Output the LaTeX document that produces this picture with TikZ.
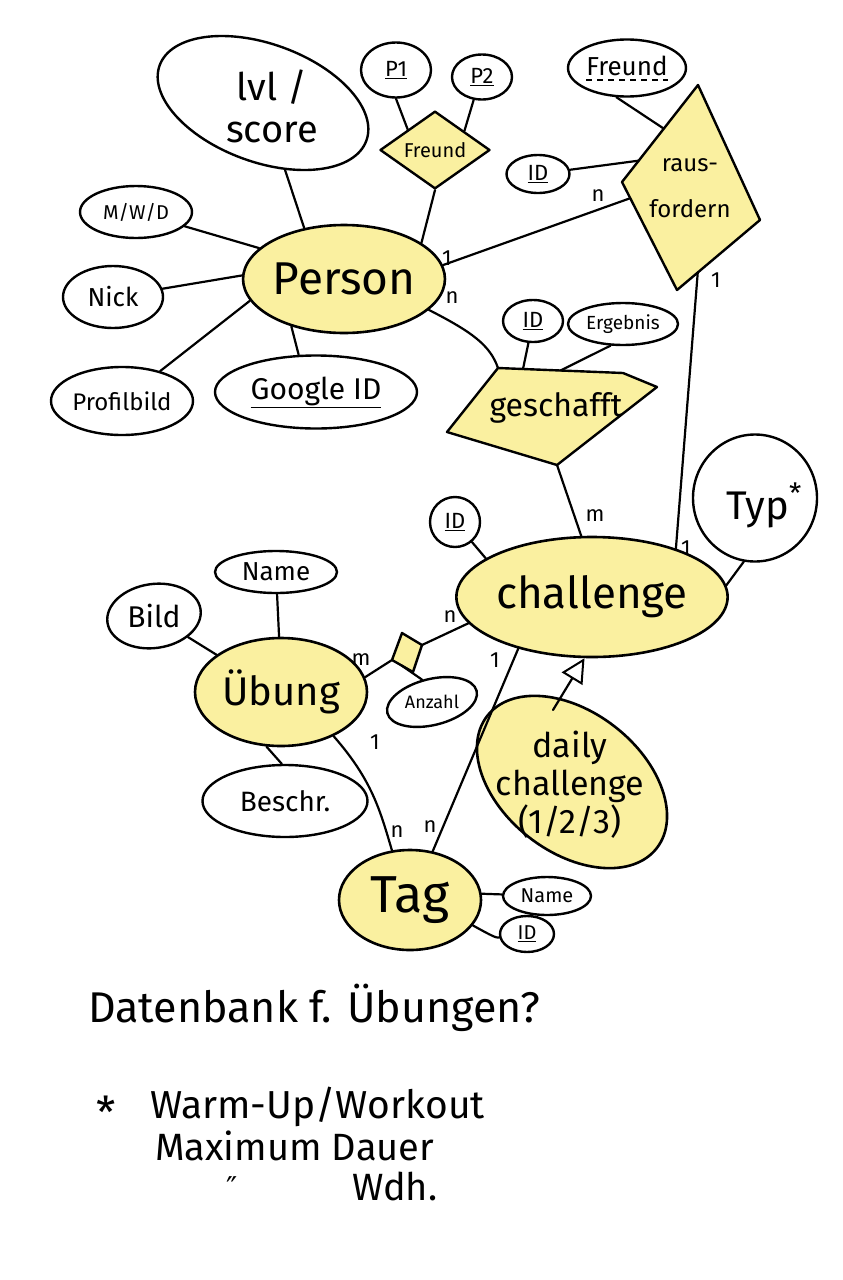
\documentclass[tikz,border=0pt]{standalone}
\usepackage{fontspec}
\setmainfont{Fira Sans}
\newfontfamily\dejavu{DejaVu Sans}
\usetikzlibrary{shapes.geometric,arrows.meta,calc}
\definecolor{hl}{RGB}{250,240,160}
\newcommand\fsz[2]{\fontsize{#1}{#2}\selectfont}
\newcommand\ul[1]{$\underline{\hbox{#1}}$}
\begin{document}
\begin{tikzpicture}[x=1pt,y=-1pt,line join=round,line cap=round]
\tikzset{
  ent/.style={ellipse,draw,line width=2.6pt,fill=hl,inner sep=0pt},
  attr/.style={ellipse,draw,line width=2.4pt,fill=white,inner sep=0pt},
  relpoly/.style={draw,line width=2.4pt,fill=hl},
  reltxt/.style={inner sep=0pt,align=center},
  lnk/.style={line width=2.2pt},
  card/.style={font=\fsz{22}{22},inner sep=0pt},
  txt/.style={inner sep=0pt,anchor=base west},
}
\useasboundingbox (0,0) rectangle (843,1280);
\fill[white] (0,0) rectangle (843,1280);

% ---------- Person and attributes ----------
\node[ent,minimum width=194,minimum height=108,font=\fsz{46}{46}] (person) at (344,279) {Person};
\node[attr,minimum width=220,minimum height=118,rotate=-20] (lvl) at (263,103) {};
\node[reltxt,font=\fsz{38}{42}] (lvltxt) at (272,106) {lvl /\\score};
\node[attr,minimum width=112,minimum height=52,font=\fsz{20}{20}] (mwd) at (136,212) {M/W/D};
\node[attr,minimum width=100,minimum height=62,font=\fsz{26}{26}] (nick) at (113,297) {Nick};
\node[attr,minimum width=142,minimum height=68,font=\fsz{24}{24}] (prof) at (122,401) {Profilbild};
\node[attr,minimum width=202,minimum height=73,font=\fsz{30}{30}] (google) at (316,392) {\ul{Google ID}};

% ---------- Freund relation ----------
\node[attr,minimum width=70,minimum height=55,font=\fsz{22}{22}] (p1) at (396,70) {\ul{P1}};
\node[attr,minimum width=60,minimum height=45,font=\fsz{22}{22}] (p2) at (482,77) {\ul{P2}};
\node[diamond,draw,line width=2.4pt,fill=hl,inner sep=0pt,minimum width=110,minimum height=72,font=\fsz{20}{20}] (freund) at (435,150) {Freund};

% ---------- rausfordern ----------
\coordinate (rt) at (698,85);
\coordinate (rr) at (760,220);
\coordinate (rb) at (677,290);
\coordinate (rl) at (622,182);
\draw[relpoly] (rt) -- (rr) -- (rb) -- (rl) -- cycle;
\node[reltxt,font=\fsz{24}{46}] (raustxt) at (690,188) {raus-\\fordern};
\node[attr,minimum width=118,minimum height=57] (freundattr) at (627,68) {};
\node[inner sep=0pt,font=\fsz{26}{26}] (fatxt) at (627,66) {Freund};
\draw[line width=1.8pt,dash pattern=on 6pt off 5pt,line cap=butt] ([yshift=-4pt]fatxt.south west) -- ([yshift=-4pt]fatxt.south east);
\node[attr,minimum width=63,minimum height=38,font=\fsz{22}{22}] (idr) at (538,174) {\ul{ID}};

% ---------- geschafft ----------
\coordinate (gtl) at (498,368);
\coordinate (gtr) at (623,373);
\coordinate (gr) at (657,387);
\coordinate (gb) at (557,465);
\coordinate (gl) at (447,432);
\draw[relpoly] (gtl) -- (gtr) -- (gr) -- (gb) -- (gl) -- cycle;
\node[reltxt,font=\fsz{32}{32}] (geschtxt) at (556,408) {geschafft};
\node[attr,minimum width=60,minimum height=42,font=\fsz{22}{22}] (idg) at (533,321) {\ul{ID}};
\node[attr,minimum width=110,minimum height=42,font=\fsz{19}{19}] (erg) at (623,324) {Ergebnis};

% ---------- challenge ----------
\node[ent,minimum width=250,minimum height=120,font=\fsz{44}{44}] (challenge) at (592,597) {challenge};
\node[attr,minimum width=50,minimum height=50,font=\fsz{22}{22}] (idc) at (455,522) {\ul{ID}};
\node[attr,minimum width=124,minimum height=127] (typ) at (755,498) {};
\node[inner sep=0pt,font=\fsz{40}{40}] (typtxt) at (764,505) {Typ\raisebox{16pt}{\fsz{28}{28}*}};

% ---------- Uebung ----------
\node[ent,minimum width=172,minimum height=108,font=\fsz{40}{40}] (uebung) at (281,692) {Übung};
\node[attr,minimum width=122,minimum height=42,font=\fsz{26}{26}] (uname) at (276,572) {Name};
\node[attr,minimum width=94,minimum height=64,rotate=8] (bild) at (154,616) {};
\node[inner sep=0pt,font=\fsz{30}{30}] (bildtxt) at (154,616) {Bild};
\node[attr,minimum width=165,minimum height=72,font=\fsz{28}{28}] (beschr) at (285,801) {Beschr.};
\coordinate (dt) at (402,633);
\coordinate (dr) at (422,645);
\coordinate (db) at (413,672);
\coordinate (dl) at (392,660);
\draw[relpoly] (dt) -- (dr) -- (db) -- (dl) -- cycle;
\node[attr,minimum width=92,minimum height=46,rotate=14] (anzahl) at (432,702) {};
\node[inner sep=0pt,font=\fsz{18}{18}] (anztxt) at (432,702) {Anzahl};

% ---------- daily challenge ----------
\node[ent,minimum width=215,minimum height=140,rotate=-38] (daily) at (572,782) {};
\node[reltxt,font=\fsz{34}{38}] (dailytxt) at (570,785) {daily\\challenge\\(1/2/3)};
\coordinate (dtop) at (553,710);

% ---------- Tag ----------
\node[ent,minimum width=142,minimum height=100,font=\fsz{52}{52}] (tag) at (410,900) {Tag};
\node[attr,minimum width=88,minimum height=38,font=\fsz{20}{20}] (tname) at (547,896) {Name};
\node[attr,minimum width=54,minimum height=36,font=\fsz{20}{20}] (tid) at (527,934) {\ul{ID}};

% ---------- connectors ----------
\draw[lnk] (person.128) -- (lvl);
\draw[lnk] (person.160) -- (mwd);
\draw[lnk] (person.178) -- (nick);
\draw[lnk] (person.193) -- (prof);
\draw[lnk] (person.222) -- (google.115);
\draw[lnk] (p1.south) -- (freund.143);
\draw[lnk] (p2.-110) -- (freund.33);
\draw[lnk] (freund.south) -- (person.25);
\draw[lnk] (person.8) -- ($(rl)!0.15!(rb)$);
\draw[lnk] (idr) -- ($(rl)!0.22!(rt)$);
\draw[lnk] (freundattr.-110) -- ($(rl)!0.55!(rt)$);
\draw[lnk] ($(rr)!0.75!(rb)$) -- (challenge.30);
\draw[lnk] (person.-20) .. controls (472,332) and (490,345) .. (gtl);
\draw[lnk] (idg) -- ($(gtl)!0.2!(gtr)$);
\draw[lnk] (erg.-120) -- ($(gtl)!0.5!(gtr)$);
\draw[lnk] (gb) -- (challenge.100);
\draw[lnk] (idc) -- (challenge.160);
\draw[lnk] (typ.-100) -- (challenge.5);
\draw[lnk] (uebung.10) -- (dl);
\draw[lnk] (dr) -- (challenge.192);
\draw[lnk] ($(dl)!0.45!(db)$) -- (anzahl.100);
\draw[lnk] (uebung.-40) .. controls (372,780) and (380,810) .. (tag.110);
\draw[lnk] (challenge.-145) -- (tag.65);
\draw[lnk] (tag.5) -- (tname);
\draw[lnk] (tag.-22) .. controls (492,936) and (496,938) .. (tid);
\draw[lnk] (uname) -- (uebung.92);
\draw[lnk] (bild) -- (uebung.150);
\draw[lnk] (beschr.95) -- (uebung.-105);
\draw[lnk,-{Triangle[open,length=24pt,width=24pt,line width=2pt]}] (dtop) -- (challenge.-97);

% ---------- cardinalities ----------
\node[card] (c1) at (447,258) {1};
\node[card] (c2) at (598,196) {n};
\node[card] (c3) at (452,298) {n};
\node[card] (c4) at (716,280) {1};
\node[card] (c5) at (686,548) {1};
\node[card] (c6) at (595,516) {m};
\node[card] (c7) at (361,660) {m};
\node[card] (c8) at (450,617) {n};
\node[card] (c9) at (375,742) {1};
\node[card] (c10) at (397,832) {n};
\node[card] (c11) at (430,827) {n};
\node[card] (c12) at (495,660) {1};

% ---------- notes ----------
\node[txt,font=\fsz{43}{43}] (note1) at (88,1022) {Datenbank f. Übungen?};
\node[inner sep=0pt,font=\fsz{44}{44}] (star) at (106,1112) {*};
\node[txt,font=\fsz{39}{39}] (note2) at (150,1118) {Warm-Up/Workout};
\node[txt,font=\fsz{38}{38}] (note3) at (155,1160) {Maximum Dauer};
\node[txt,font=\fsz{30}{30}] (ditto) at (226,1198) {\dejavu ″};
\node[txt,font=\fsz{38}{38}] (note4) at (352,1200) {Wdh.};
\end{tikzpicture}
\end{document}
